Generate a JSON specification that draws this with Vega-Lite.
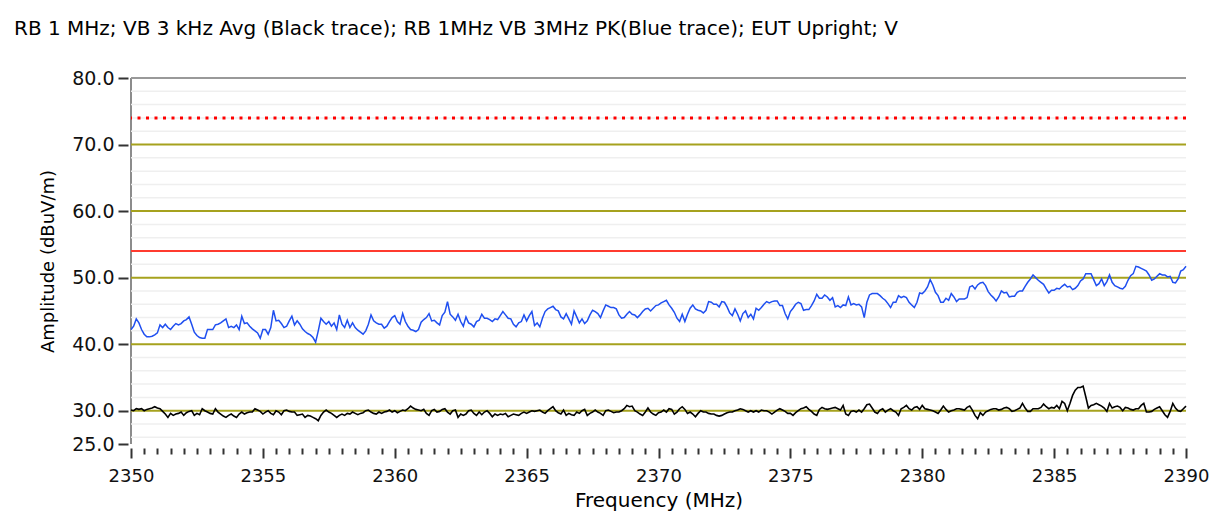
{
"$schema": "https://vega.github.io/schema/vega-lite/v6.json",
"width": 1055, "height": 366,
"autosize": {"type": "none"},
"padding": {"left": 131, "top": 78, "right": 30, "bottom": 79},
"background": "white",
"config": {"view": {"stroke": null}, "font": "DejaVu Sans",
 "axisX": {"domain": false, "grid": false, "offset": 4, "tickWidth": 2, "tickColor": "#333333", "labelFlush": false, "labelOverlap": false, "labelFont": "DejaVu Sans", "labelFontSize": 18, "labelColor": "#111111", "labelPadding": 9, "titleFont": "DejaVu Sans", "titleFontSize": 20, "titleFontWeight": "normal", "titleColor": "#000000", "titlePadding": 5},
 "axisY": {"domain": false, "grid": false, "offset": 3, "tickSize": 10, "tickWidth": 2, "tickColor": "#333333", "labelFont": "DejaVu Sans", "labelFontSize": 19, "labelColor": "#111111", "labelPadding": 4, "titleFont": "DejaVu Sans", "titleFontSize": 18, "titleFontWeight": "normal", "titleColor": "#000000", "titlePadding": 14}
},
"title": {"text": "RB 1 MHz; VB 3 kHz Avg (Black trace); RB 1MHz VB 3MHz PK(Blue trace); EUT Upright; V", "anchor": "start", "frame": "group", "dx": -117, "offset": 30, "fontSize": 20, "fontWeight": "normal", "font": "DejaVu Sans", "color": "#000000"},
"datasets": {
"minor": [{"v":26},{"v":28},{"v":32},{"v":34},{"v":36},{"v":38},{"v":42},{"v":44},{"v":46},{"v":48},{"v":52},{"v":54},{"v":56},{"v":58},{"v":62},{"v":64},{"v":66},{"v":68},{"v":72},{"v":74},{"v":76},{"v":78}],
"major": [{"v":30},{"v":40},{"v":50},{"v":60},{"v":70}],
"traces": [
{"f":2350.0,"p":42.2,"a":30.1},{"f":2350.1,"p":42.7,"a":30.0},{"f":2350.2,"p":43.8,"a":30.3},{"f":2350.3,"p":43.2,"a":30.2},{"f":2350.4,"p":42.2,"a":30.3},{"f":2350.5,"p":41.5,"a":30.0},{"f":2350.6,"p":41.1,"a":30.2},{"f":2350.7,"p":41.1,"a":30.3},{"f":2350.8,"p":41.2,"a":30.4},{"f":2350.9,"p":41.4,"a":30.6},
{"f":2351.0,"p":41.7,"a":30.4},{"f":2351.1,"p":42.9,"a":30.3},{"f":2351.2,"p":42.5,"a":29.9},{"f":2351.3,"p":43.0,"a":29.5},{"f":2351.4,"p":42.5,"a":29.0},{"f":2351.5,"p":42.2,"a":29.6},{"f":2351.6,"p":42.7,"a":29.3},{"f":2351.7,"p":43.1,"a":29.5},{"f":2351.8,"p":42.9,"a":29.6},{"f":2351.9,"p":43.1,"a":29.8},
{"f":2352.0,"p":43.5,"a":29.3},{"f":2352.1,"p":43.7,"a":29.7},{"f":2352.2,"p":44.1,"a":29.9},{"f":2352.3,"p":43.0,"a":30.0},{"f":2352.4,"p":41.8,"a":29.3},{"f":2352.5,"p":41.3,"a":29.6},{"f":2352.6,"p":41.0,"a":29.4},{"f":2352.7,"p":40.9,"a":30.3},{"f":2352.8,"p":40.9,"a":30.0},{"f":2352.9,"p":42.2,"a":29.8},
{"f":2353.0,"p":42.2,"a":29.6},{"f":2353.1,"p":42.2,"a":29.5},{"f":2353.2,"p":42.9,"a":30.3},{"f":2353.3,"p":43.0,"a":29.8},{"f":2353.4,"p":43.2,"a":29.5},{"f":2353.5,"p":43.5,"a":29.2},{"f":2353.6,"p":43.8,"a":29.0},{"f":2353.7,"p":42.5,"a":29.3},{"f":2353.8,"p":42.7,"a":29.5},{"f":2353.9,"p":42.5,"a":29.2},
{"f":2354.0,"p":42.9,"a":29.0},{"f":2354.1,"p":42.2,"a":29.5},{"f":2354.2,"p":44.2,"a":29.8},{"f":2354.3,"p":43.1,"a":29.5},{"f":2354.4,"p":43.2,"a":29.7},{"f":2354.5,"p":42.7,"a":29.8},{"f":2354.6,"p":42.3,"a":29.8},{"f":2354.7,"p":42.0,"a":30.3},{"f":2354.8,"p":41.7,"a":30.1},{"f":2354.9,"p":40.9,"a":29.9},
{"f":2355.0,"p":42.2,"a":29.5},{"f":2355.1,"p":42.2,"a":29.8},{"f":2355.2,"p":41.5,"a":30.0},{"f":2355.3,"p":42.5,"a":29.6},{"f":2355.4,"p":45.1,"a":29.4},{"f":2355.5,"p":43.5,"a":30.0},{"f":2355.6,"p":43.6,"a":29.8},{"f":2355.7,"p":43.1,"a":29.4},{"f":2355.8,"p":42.5,"a":30.0},{"f":2355.9,"p":42.7,"a":30.1},
{"f":2356.0,"p":43.5,"a":29.9},{"f":2356.1,"p":44.2,"a":29.8},{"f":2356.2,"p":42.9,"a":29.8},{"f":2356.3,"p":43.5,"a":29.3},{"f":2356.4,"p":43.0,"a":29.4},{"f":2356.5,"p":42.3,"a":29.5},{"f":2356.6,"p":41.9,"a":29.0},{"f":2356.7,"p":41.6,"a":29.3},{"f":2356.8,"p":41.4,"a":29.2},{"f":2356.9,"p":41.0,"a":29.0},
{"f":2357.0,"p":40.3,"a":28.8},{"f":2357.1,"p":42.0,"a":28.5},{"f":2357.2,"p":43.9,"a":29.3},{"f":2357.3,"p":43.4,"a":29.8},{"f":2357.4,"p":43.0,"a":30.1},{"f":2357.5,"p":43.4,"a":29.8},{"f":2357.6,"p":42.7,"a":29.6},{"f":2357.7,"p":43.2,"a":29.3},{"f":2357.8,"p":42.2,"a":29.0},{"f":2357.9,"p":44.4,"a":29.3},
{"f":2358.0,"p":43.0,"a":29.5},{"f":2358.1,"p":42.5,"a":29.3},{"f":2358.2,"p":43.6,"a":29.6},{"f":2358.3,"p":42.5,"a":29.5},{"f":2358.4,"p":43.2,"a":29.8},{"f":2358.5,"p":42.5,"a":29.6},{"f":2358.6,"p":42.1,"a":29.4},{"f":2358.7,"p":41.8,"a":29.6},{"f":2358.8,"p":41.5,"a":29.7},{"f":2358.9,"p":42.0,"a":30.0},
{"f":2359.0,"p":43.0,"a":30.1},{"f":2359.1,"p":44.4,"a":29.8},{"f":2359.2,"p":43.5,"a":29.6},{"f":2359.3,"p":43.2,"a":29.5},{"f":2359.4,"p":43.0,"a":29.8},{"f":2359.5,"p":43.0,"a":29.6},{"f":2359.6,"p":42.4,"a":29.8},{"f":2359.7,"p":42.7,"a":29.9},{"f":2359.8,"p":43.4,"a":30.1},{"f":2359.9,"p":44.0,"a":29.8},
{"f":2360.0,"p":44.3,"a":30.0},{"f":2360.1,"p":43.4,"a":29.7},{"f":2360.2,"p":43.0,"a":29.9},{"f":2360.3,"p":44.6,"a":30.1},{"f":2360.4,"p":43.4,"a":30.0},{"f":2360.5,"p":42.7,"a":30.3},{"f":2360.6,"p":42.2,"a":30.7},{"f":2360.7,"p":42.1,"a":30.4},{"f":2360.8,"p":41.9,"a":30.2},{"f":2360.9,"p":42.2,"a":30.1},
{"f":2361.0,"p":43.3,"a":30.0},{"f":2361.1,"p":43.7,"a":30.2},{"f":2361.2,"p":44.0,"a":29.6},{"f":2361.3,"p":44.6,"a":29.3},{"f":2361.4,"p":43.5,"a":30.0},{"f":2361.5,"p":43.6,"a":30.2},{"f":2361.6,"p":43.2,"a":29.8},{"f":2361.7,"p":42.9,"a":29.9},{"f":2361.8,"p":44.3,"a":30.2},{"f":2361.9,"p":44.8,"a":30.3},
{"f":2362.0,"p":46.4,"a":29.8},{"f":2362.1,"p":44.5,"a":29.5},{"f":2362.2,"p":44.1,"a":30.0},{"f":2362.3,"p":43.6,"a":30.1},{"f":2362.4,"p":44.5,"a":29.0},{"f":2362.5,"p":43.4,"a":29.5},{"f":2362.6,"p":42.7,"a":29.3},{"f":2362.7,"p":44.1,"a":29.5},{"f":2362.8,"p":43.2,"a":30.0},{"f":2362.9,"p":43.0,"a":30.1},
{"f":2363.0,"p":42.6,"a":29.6},{"f":2363.1,"p":43.4,"a":29.3},{"f":2363.2,"p":43.6,"a":29.8},{"f":2363.3,"p":44.5,"a":29.4},{"f":2363.4,"p":43.9,"a":29.8},{"f":2363.5,"p":43.9,"a":30.0},{"f":2363.6,"p":43.7,"a":29.6},{"f":2363.7,"p":43.4,"a":29.1},{"f":2363.8,"p":43.8,"a":29.5},{"f":2363.9,"p":43.7,"a":29.3},
{"f":2364.0,"p":44.3,"a":29.5},{"f":2364.1,"p":44.9,"a":29.4},{"f":2364.2,"p":44.4,"a":29.6},{"f":2364.3,"p":43.9,"a":29.1},{"f":2364.4,"p":43.8,"a":29.3},{"f":2364.5,"p":43.0,"a":29.5},{"f":2364.6,"p":42.6,"a":29.4},{"f":2364.7,"p":43.2,"a":29.3},{"f":2364.8,"p":43.4,"a":29.6},{"f":2364.9,"p":44.4,"a":29.8},
{"f":2365.0,"p":43.5,"a":29.6},{"f":2365.1,"p":44.3,"a":29.8},{"f":2365.2,"p":44.9,"a":30.0},{"f":2365.3,"p":42.8,"a":29.9},{"f":2365.4,"p":43.2,"a":30.0},{"f":2365.5,"p":42.6,"a":30.1},{"f":2365.6,"p":43.9,"a":29.8},{"f":2365.7,"p":44.9,"a":29.6},{"f":2365.8,"p":45.3,"a":30.0},{"f":2365.9,"p":45.5,"a":30.3},
{"f":2366.0,"p":45.7,"a":30.6},{"f":2366.1,"p":45.2,"a":30.0},{"f":2366.2,"p":45.0,"a":29.7},{"f":2366.3,"p":44.1,"a":29.5},{"f":2366.4,"p":43.8,"a":30.1},{"f":2366.5,"p":44.6,"a":29.3},{"f":2366.6,"p":43.8,"a":29.6},{"f":2366.7,"p":43.0,"a":29.4},{"f":2366.8,"p":45.0,"a":29.3},{"f":2366.9,"p":44.1,"a":29.8},
{"f":2367.0,"p":43.2,"a":29.6},{"f":2367.1,"p":43.8,"a":30.0},{"f":2367.2,"p":43.1,"a":30.2},{"f":2367.3,"p":43.5,"a":29.3},{"f":2367.4,"p":44.4,"a":29.6},{"f":2367.5,"p":45.1,"a":29.8},{"f":2367.6,"p":44.9,"a":30.1},{"f":2367.7,"p":44.6,"a":29.8},{"f":2367.8,"p":44.0,"a":29.6},{"f":2367.9,"p":45.0,"a":29.3},
{"f":2368.0,"p":45.9,"a":30.0},{"f":2368.1,"p":45.7,"a":30.1},{"f":2368.2,"p":45.5,"a":29.9},{"f":2368.3,"p":45.5,"a":29.7},{"f":2368.4,"p":45.3,"a":29.8},{"f":2368.5,"p":44.4,"a":29.8},{"f":2368.6,"p":43.9,"a":30.0},{"f":2368.7,"p":44.0,"a":30.3},{"f":2368.8,"p":44.5,"a":30.8},{"f":2368.9,"p":44.9,"a":30.6},
{"f":2369.0,"p":44.5,"a":30.7},{"f":2369.1,"p":44.4,"a":30.0},{"f":2369.2,"p":44.0,"a":29.8},{"f":2369.3,"p":44.4,"a":29.5},{"f":2369.4,"p":44.9,"a":29.3},{"f":2369.5,"p":45.3,"a":29.8},{"f":2369.6,"p":45.4,"a":30.4},{"f":2369.7,"p":45.0,"a":29.8},{"f":2369.8,"p":45.4,"a":29.5},{"f":2369.9,"p":45.8,"a":29.3},
{"f":2370.0,"p":45.9,"a":29.7},{"f":2370.1,"p":46.2,"a":29.8},{"f":2370.2,"p":46.4,"a":30.1},{"f":2370.3,"p":46.6,"a":29.8},{"f":2370.4,"p":45.9,"a":30.3},{"f":2370.5,"p":45.4,"a":30.2},{"f":2370.6,"p":44.8,"a":29.5},{"f":2370.7,"p":43.9,"a":29.8},{"f":2370.8,"p":43.4,"a":30.3},{"f":2370.9,"p":44.5,"a":30.6},
{"f":2371.0,"p":43.4,"a":30.2},{"f":2371.1,"p":44.5,"a":29.6},{"f":2371.2,"p":45.4,"a":29.8},{"f":2371.3,"p":45.9,"a":29.5},{"f":2371.4,"p":45.3,"a":29.1},{"f":2371.5,"p":45.1,"a":29.6},{"f":2371.6,"p":45.0,"a":30.0},{"f":2371.7,"p":44.7,"a":29.8},{"f":2371.8,"p":45.1,"a":29.8},{"f":2371.9,"p":46.4,"a":29.6},
{"f":2372.0,"p":46.3,"a":29.5},{"f":2372.1,"p":46.0,"a":29.5},{"f":2372.2,"p":46.0,"a":29.3},{"f":2372.3,"p":45.6,"a":29.2},{"f":2372.4,"p":46.4,"a":29.3},{"f":2372.5,"p":46.3,"a":29.5},{"f":2372.6,"p":45.6,"a":29.7},{"f":2372.7,"p":44.7,"a":29.8},{"f":2372.8,"p":44.3,"a":29.8},{"f":2372.9,"p":45.3,"a":30.0},
{"f":2373.0,"p":44.5,"a":30.1},{"f":2373.1,"p":43.5,"a":30.3},{"f":2373.2,"p":44.6,"a":30.2},{"f":2373.3,"p":45.0,"a":30.0},{"f":2373.4,"p":44.0,"a":29.8},{"f":2373.5,"p":44.5,"a":30.0},{"f":2373.6,"p":43.8,"a":29.8},{"f":2373.7,"p":45.4,"a":30.0},{"f":2373.8,"p":45.1,"a":29.8},{"f":2373.9,"p":45.5,"a":30.1},
{"f":2374.0,"p":46.0,"a":30.0},{"f":2374.1,"p":46.4,"a":30.0},{"f":2374.2,"p":46.2,"a":29.8},{"f":2374.3,"p":46.4,"a":29.5},{"f":2374.4,"p":46.5,"a":29.8},{"f":2374.5,"p":46.5,"a":30.1},{"f":2374.6,"p":45.8,"a":30.3},{"f":2374.7,"p":45.8,"a":30.1},{"f":2374.8,"p":44.6,"a":29.9},{"f":2374.9,"p":43.8,"a":29.6},
{"f":2375.0,"p":44.9,"a":29.6},{"f":2375.1,"p":45.4,"a":29.3},{"f":2375.2,"p":46.0,"a":29.7},{"f":2375.3,"p":46.3,"a":30.0},{"f":2375.4,"p":46.1,"a":30.3},{"f":2375.5,"p":45.1,"a":30.4},{"f":2375.6,"p":45.2,"a":30.6},{"f":2375.7,"p":45.2,"a":30.2},{"f":2375.8,"p":45.8,"a":29.9},{"f":2375.9,"p":46.5,"a":29.5},
{"f":2376.0,"p":47.5,"a":29.3},{"f":2376.1,"p":46.9,"a":30.2},{"f":2376.2,"p":46.9,"a":30.5},{"f":2376.3,"p":47.4,"a":30.3},{"f":2376.4,"p":47.1,"a":30.2},{"f":2376.5,"p":46.6,"a":30.3},{"f":2376.6,"p":47.0,"a":30.4},{"f":2376.7,"p":45.6,"a":30.5},{"f":2376.8,"p":45.8,"a":30.3},{"f":2376.9,"p":45.5,"a":30.1},
{"f":2377.0,"p":45.9,"a":30.8},{"f":2377.1,"p":45.8,"a":29.5},{"f":2377.2,"p":47.1,"a":29.3},{"f":2377.3,"p":45.9,"a":29.9},{"f":2377.4,"p":46.1,"a":30.0},{"f":2377.5,"p":45.9,"a":29.8},{"f":2377.6,"p":46.0,"a":30.1},{"f":2377.7,"p":45.6,"a":29.8},{"f":2377.8,"p":44.0,"a":30.3},{"f":2377.9,"p":46.3,"a":30.9},
{"f":2378.0,"p":47.4,"a":31.0},{"f":2378.1,"p":47.6,"a":30.4},{"f":2378.2,"p":47.6,"a":29.8},{"f":2378.3,"p":47.6,"a":29.6},{"f":2378.4,"p":47.3,"a":30.1},{"f":2378.5,"p":46.9,"a":30.3},{"f":2378.6,"p":46.6,"a":29.8},{"f":2378.7,"p":46.1,"a":30.1},{"f":2378.8,"p":45.5,"a":30.3},{"f":2378.9,"p":46.3,"a":30.0},
{"f":2379.0,"p":46.3,"a":29.8},{"f":2379.1,"p":47.3,"a":29.3},{"f":2379.2,"p":47.0,"a":30.3},{"f":2379.3,"p":47.2,"a":30.5},{"f":2379.4,"p":47.0,"a":30.8},{"f":2379.5,"p":46.3,"a":30.3},{"f":2379.6,"p":45.9,"a":30.1},{"f":2379.7,"p":45.5,"a":30.5},{"f":2379.8,"p":46.3,"a":30.6},{"f":2379.9,"p":47.7,"a":30.2},
{"f":2380.0,"p":47.6,"a":30.8},{"f":2380.1,"p":48.0,"a":30.3},{"f":2380.2,"p":48.6,"a":30.2},{"f":2380.3,"p":49.7,"a":30.1},{"f":2380.4,"p":48.9,"a":30.0},{"f":2380.5,"p":47.8,"a":29.8},{"f":2380.6,"p":47.3,"a":29.6},{"f":2380.7,"p":46.3,"a":30.1},{"f":2380.8,"p":46.3,"a":30.7},{"f":2380.9,"p":46.9,"a":30.2},
{"f":2381.0,"p":46.6,"a":29.8},{"f":2381.1,"p":47.6,"a":30.0},{"f":2381.2,"p":47.1,"a":30.1},{"f":2381.3,"p":46.4,"a":30.3},{"f":2381.4,"p":46.8,"a":30.3},{"f":2381.5,"p":46.8,"a":30.2},{"f":2381.6,"p":46.8,"a":30.1},{"f":2381.7,"p":47.0,"a":30.5},{"f":2381.8,"p":48.6,"a":30.7},{"f":2381.9,"p":48.8,"a":30.1},
{"f":2382.0,"p":48.3,"a":29.3},{"f":2382.1,"p":48.9,"a":28.8},{"f":2382.2,"p":49.2,"a":29.7},{"f":2382.3,"p":49.3,"a":29.3},{"f":2382.4,"p":48.8,"a":29.8},{"f":2382.5,"p":47.9,"a":30.0},{"f":2382.6,"p":47.4,"a":30.2},{"f":2382.7,"p":47.0,"a":30.3},{"f":2382.8,"p":46.5,"a":30.3},{"f":2382.9,"p":47.1,"a":30.1},
{"f":2383.0,"p":48.0,"a":30.2},{"f":2383.1,"p":47.7,"a":30.4},{"f":2383.2,"p":47.8,"a":30.5},{"f":2383.3,"p":47.1,"a":30.3},{"f":2383.4,"p":47.2,"a":29.9},{"f":2383.5,"p":47.2,"a":30.0},{"f":2383.6,"p":47.8,"a":30.2},{"f":2383.7,"p":48.0,"a":30.4},{"f":2383.8,"p":48.0,"a":31.1},{"f":2383.9,"p":48.7,"a":30.4},
{"f":2384.0,"p":49.3,"a":29.9},{"f":2384.1,"p":49.8,"a":29.9},{"f":2384.2,"p":50.4,"a":30.3},{"f":2384.3,"p":50.0,"a":30.3},{"f":2384.4,"p":49.6,"a":30.3},{"f":2384.5,"p":49.3,"a":30.5},{"f":2384.6,"p":49.0,"a":31.0},{"f":2384.7,"p":48.3,"a":30.6},{"f":2384.8,"p":47.7,"a":30.3},{"f":2384.9,"p":48.1,"a":30.5},
{"f":2385.0,"p":48.1,"a":30.4},{"f":2385.1,"p":48.4,"a":30.8},{"f":2385.2,"p":48.3,"a":30.3},{"f":2385.3,"p":48.7,"a":31.4},{"f":2385.4,"p":49.0,"a":31.1},{"f":2385.5,"p":48.6,"a":30.0},{"f":2385.6,"p":48.7,"a":31.1},{"f":2385.7,"p":48.2,"a":32.3},{"f":2385.8,"p":48.4,"a":33.1},{"f":2385.9,"p":48.8,"a":33.5},
{"f":2386.0,"p":49.5,"a":33.5},{"f":2386.1,"p":49.8,"a":33.7},{"f":2386.2,"p":50.6,"a":32.1},{"f":2386.3,"p":50.6,"a":30.4},{"f":2386.4,"p":50.6,"a":30.8},{"f":2386.5,"p":49.7,"a":30.9},{"f":2386.6,"p":48.8,"a":31.1},{"f":2386.7,"p":49.1,"a":30.9},{"f":2386.8,"p":49.8,"a":30.7},{"f":2386.9,"p":48.8,"a":30.4},
{"f":2387.0,"p":49.4,"a":29.9},{"f":2387.1,"p":50.4,"a":31.1},{"f":2387.2,"p":49.3,"a":30.4},{"f":2387.3,"p":48.8,"a":30.6},{"f":2387.4,"p":48.6,"a":30.7},{"f":2387.5,"p":48.4,"a":30.5},{"f":2387.6,"p":48.3,"a":30.0},{"f":2387.7,"p":48.7,"a":30.5},{"f":2387.8,"p":49.6,"a":30.4},{"f":2387.9,"p":50.3,"a":30.2},
{"f":2388.0,"p":50.6,"a":30.1},{"f":2388.1,"p":51.7,"a":30.3},{"f":2388.2,"p":51.6,"a":30.3},{"f":2388.3,"p":51.4,"a":30.8},{"f":2388.4,"p":51.2,"a":31.1},{"f":2388.5,"p":51.0,"a":29.8},{"f":2388.6,"p":50.4,"a":29.8},{"f":2388.7,"p":49.6,"a":29.9},{"f":2388.8,"p":49.8,"a":30.2},{"f":2388.9,"p":50.2,"a":30.4},
{"f":2389.0,"p":50.6,"a":30.6},{"f":2389.1,"p":50.4,"a":30.0},{"f":2389.2,"p":50.4,"a":29.4},{"f":2389.3,"p":50.1,"a":29.0},{"f":2389.4,"p":50.2,"a":29.9},{"f":2389.5,"p":49.3,"a":31.1},{"f":2389.6,"p":49.2,"a":30.4},{"f":2389.7,"p":49.8,"a":30.0},{"f":2389.8,"p":51.0,"a":29.9},{"f":2389.9,"p":51.2,"a":30.3},
{"f":2390.0,"p":51.7,"a":30.7}
]
},
"layer": [
{"data": {"values": [{"x": 2350, "y1": 25, "y2": 80}]}, "mark": {"type": "rule", "color": "#8c8c8c", "strokeWidth": 2},
 "encoding": {
  "x": {"field": "x", "type": "quantitative", "scale": {"domain": [2350, 2390], "nice": false, "zero": false},
   "axis": {"title": "Frequency (MHz)", "tickCount": 80,
    "labelExpr": "abs(datum.value % 5) < 0.01 ? format(datum.value, 'd') : ''",
    "tickSize": {"condition": {"test": "abs(datum.value % 5) < 0.01", "value": 10}, "value": 6}}},
  "y": {"field": "y1", "type": "quantitative", "scale": {"domain": [25, 80], "nice": false, "zero": false},
   "axis": {"title": "Amplitude (dBuV/m)", "values": [25, 30, 40, 50, 60, 70, 80], "format": ".1f"}},
  "y2": {"field": "y2"}
 }},
{"data": {"name": "minor"}, "mark": {"type": "rule", "color": "#efefef", "strokeWidth": 1.5}, "encoding": {"y": {"field": "v", "type": "quantitative"}}},
{"data": {"name": "major"}, "mark": {"type": "rule", "color": "#a6a21e", "strokeWidth": 2}, "encoding": {"y": {"field": "v", "type": "quantitative"}}},
{"data": {"values": [{"v": 74}]}, "mark": {"type": "rule", "color": "#ff0000", "strokeWidth": 3, "strokeDash": [3, 5.5]}, "encoding": {"y": {"field": "v", "type": "quantitative"}}},
{"data": {"values": [{"v": 54}]}, "mark": {"type": "rule", "color": "#ff3b2f", "strokeWidth": 2}, "encoding": {"y": {"field": "v", "type": "quantitative"}}},
{"data": {"values": [{"v": 80}]}, "mark": {"type": "rule", "color": "#999999", "strokeWidth": 2}, "encoding": {"y": {"field": "v", "type": "quantitative"}}},
{"data": {"name": "traces"}, "mark": {"type": "line", "color": "#000000", "strokeWidth": 1.6},
 "encoding": {"x": {"field": "f", "type": "quantitative"}, "y": {"field": "a", "type": "quantitative"}}},
{"data": {"name": "traces"}, "mark": {"type": "line", "color": "#1f4ff0", "strokeWidth": 1.5},
 "encoding": {"x": {"field": "f", "type": "quantitative"}, "y": {"field": "p", "type": "quantitative"}}}
]
}
